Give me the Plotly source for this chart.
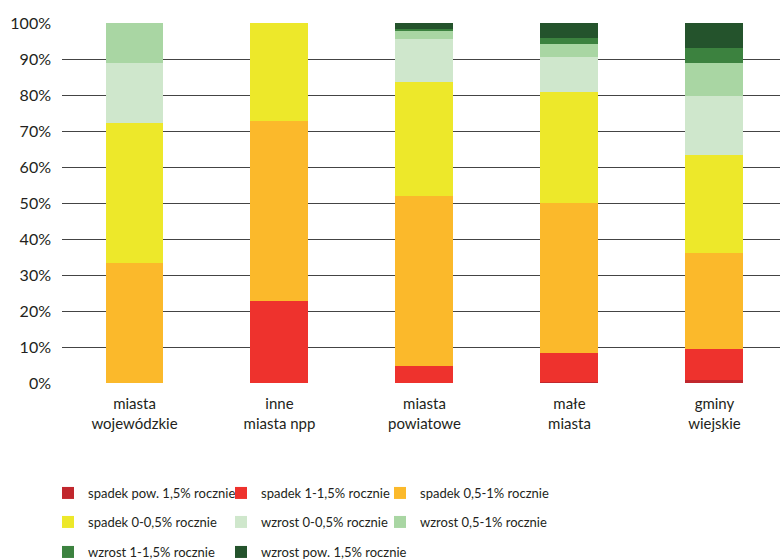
import plotly.graph_objects as go

categories = ["miasta<br>wojewódzkie", "inne<br>miasta npp", "miasta<br>powiatowe", "małe<br>miasta", "gminy<br>wiejskie"]
series_names = ["spadek pow. 1,5% rocznie", "spadek 1-1,5% rocznie", "spadek 0,5-1% rocznie",
                "spadek 0-0,5% rocznie", "wzrost 0-0,5% rocznie", "wzrost 0,5-1% rocznie",
                "wzrost 1-1,5% rocznie", "wzrost pow. 1,5% rocznie"]
spadek_pow_15 = [0.0, 0.0, 0.0, 0.2, 0.7]
spadek_1_15 = [0.0, 22.7, 4.8, 8.2, 8.7]
spadek_05_1 = [33.3, 50.0, 47.1, 41.5, 26.8]
spadek_0_05 = [38.9, 27.3, 31.8, 30.9, 27.2]
wzrost_0_05 = [16.7, 0.0, 11.8, 9.8, 16.4]
wzrost_05_1 = [11.1, 0.0, 2.4, 3.5, 9.0]
wzrost_1_15 = [0.0, 0.0, 0.4, 1.7, 4.2]
wzrost_pow_15 = [0.0, 0.0, 1.7, 4.2, 7.0]
y_ticks = [0, 10, 20, 30, 40, 50, 60, 70, 80, 90, 100]

values = [spadek_pow_15, spadek_1_15, spadek_05_1, spadek_0_05,
          wzrost_0_05, wzrost_05_1, wzrost_1_15, wzrost_pow_15]
colors = ["#C1272D", "#EE322D", "#FBB92B", "#EDE82A", "#CFE7CC", "#A9D6A3", "#3C823F", "#24532C"]

# legend layout: text start x (px) per column, row centre y (px)
legend_text_x = [88, 261, 420, 88, 261, 420, 88, 261]
legend_row_y = [493, 493, 493, 522, 522, 522, 552, 552]

FONT = "Lato"
TXT = "#231F20"
fig = go.Figure()
legend_layout = {}
for i, (name, vals, col) in enumerate(zip(series_names, values, colors)):
    key = "legend" if i == 0 else f"legend{i + 1}"
    fig.add_trace(go.Bar(
        x=list(range(len(categories))), y=vals, name=name,
        marker=dict(color=col, line=dict(width=0)),
        width=0.4, legend=key,
    ))
    legend_layout[key] = dict(
        orientation="h", xanchor="left", yanchor="middle",
        xref="container", yref="container",
        x=(legend_text_x[i] - 40) / 780, y=1 - legend_row_y[i] / 560,
        font=dict(size=13, family=FONT, color=TXT),
        itemwidth=30, bgcolor="rgba(0,0,0,0)",
    )

fig.update_layout(
    barmode="stack",
    width=780, height=560,
    margin=dict(l=62, r=0, t=23, b=177, autoexpand=False),
    plot_bgcolor="white", paper_bgcolor="white",
    font=dict(family=FONT, size=15, color=TXT),
    xaxis=dict(
        range=[-0.5, 4.452],
        tickmode="array", tickvals=list(range(len(categories))), ticktext=categories,
        showgrid=False, zeroline=False, showline=False,
        ticks="", tickfont=dict(size=15, family=FONT, color=TXT),
        ticklabelstandoff=10,
    ),
    yaxis=dict(
        range=[0, 100],
        tickmode="array", tickvals=y_ticks, ticktext=[f"{v}%" for v in y_ticks],
        showgrid=True, gridcolor="#444444", gridwidth=1,
        zeroline=False, showline=False, ticks="",
        tickfont=dict(size=16, family=FONT, color=TXT),
        ticklabelstandoff=10,
    ),
    bargap=0,
    showlegend=True,
    **legend_layout,
)

fig.write_html("out.html")
